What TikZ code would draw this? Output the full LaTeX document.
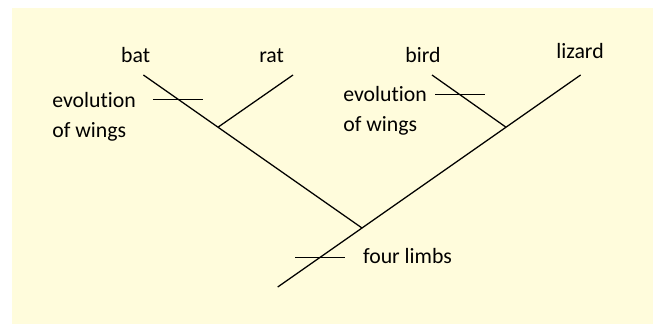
\documentclass[tikz,border=0pt]{standalone}
\usepackage{fontspec}
\setmainfont{Carlito}[Ligatures=NoCommon]
\usetikzlibrary{calc}
\definecolor{paperc}{RGB}{255,252,220}

\begin{document}
\begin{tikzpicture}[
    branch/.style={line width=0.9pt},
    taxon/.style={inner sep=0pt,anchor=base,font=\fontsize{15.5}{21.3}\selectfont},
    trait/.style={inner sep=0pt,anchor=base west,align=left,font=\fontsize{15.5}{21.3}\selectfont}]
	% frame
	\useasboundingbox (0,0) rectangle (16.325,8.1);
	\fill[paperc] (0.3,0) rectangle (16.325,7.9);
	% tips and branch points
	\coordinate (bat) at (3.585,6.225);
	\coordinate (rat) at (7.325,6.225);
	\coordinate (bird) at (10.8,6.225);
	\coordinate (lizard) at (14.515,6.225);
	\coordinate (root) at (6.943,0.925);
	\coordinate (mammal) at (5.45,4.92);
	\coordinate (amniote) at (9.05,2.4);
	\coordinate (reptile) at (12.65,4.92);
	% branches
	\draw[branch] (bat) -- (amniote);
	\draw[branch] (rat) -- (mammal);
	\draw[branch] (lizard) -- (root);
	\draw[branch] (bird) -- (reptile);
	% trait marks
	\draw[branch] ($(bat)!0.158!(amniote)$) ++(-0.625,0) -- ++(1.25,0);
	\draw[branch] ($(bird)!0.38!(reptile)$) ++(-0.625,0) -- ++(1.25,0);
	\draw[branch] ($(lizard)!0.86!(root)$) ++(-0.625,0) -- ++(1.25,0);
	% labels (base of a two-line node = its last line)
	\node[taxon] (batlab) at (3.39,6.55) {bat};
	\node[taxon] (ratlab) at (6.79,6.55) {rat};
	\node[taxon] (birdlab) at (10.575,6.55) {bird};
	\node[taxon] (lizardlab) at (14.5,6.64) {lizard};
	\node[trait] (wingsa) at (1.3,4.675) {evolution\\of wings};
	\node[trait] (wingsb) at (8.575,4.825) {evolution\\of wings};
	\node[trait] (limbs) at (9.07,1.525) {four limbs};
\end{tikzpicture}
\end{document}
